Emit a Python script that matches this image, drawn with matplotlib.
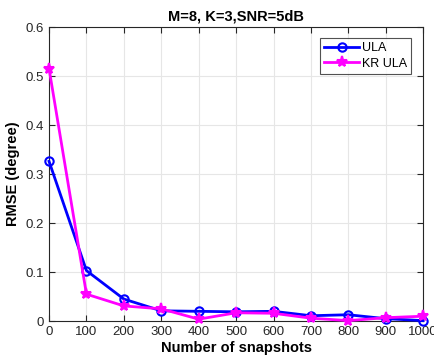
import matplotlib
matplotlib.use("Agg")
import matplotlib.pyplot as plt

snapshots = [0, 100, 200, 300, 400, 500, 600, 700, 800, 900, 1000]
ula = [0.326, 0.103, 0.045, 0.021, 0.020, 0.019, 0.020, 0.011, 0.013, 0.005, 0.001]
kr_ula = [0.515, 0.055, 0.031, 0.025, 0.004, 0.017, 0.016, 0.006, 0.001, 0.007, 0.010]
xticks = [0, 100, 200, 300, 400, 500, 600, 700, 800, 900, 1000]
yticks = [0, 0.1, 0.2, 0.3, 0.4, 0.5, 0.6]

plt.rcParams['font.family'] = ['Liberation Sans', 'DejaVu Sans']
fig = plt.figure(figsize=(4.34, 3.6), dpi=100)
ax = fig.add_axes([0.113, 0.108, 0.862, 0.817])

ax.plot(snapshots, ula, color='#0000ff', lw=2, marker='o', ms=6, mfc='none', mew=1.5, label='ULA', clip_on=False, zorder=3)
ax.plot(snapshots, kr_ula, color='#ff00ff', lw=2, marker='*', ms=8, mew=1.5, label='KR ULA', clip_on=False, zorder=3)

ax.set_xlim(0, 1000)
ax.set_ylim(0, 0.6)
ax.set_xticks(xticks)
ax.set_yticks(yticks)
ax.set_yticklabels(['0', '0.1', '0.2', '0.3', '0.4', '0.5', '0.6'])
ax.tick_params(direction='in', labelsize=9.5, colors='#262626', length=4, top=True, right=True, labeltop=False, labelright=False)
ax.grid(True, color='#e6e6e6', lw=0.8)
ax.set_axisbelow(True)
for s in ax.spines.values():
    s.set_color('#262626')
    s.set_linewidth(0.8)

ax.set_title('M=8, K=3,SNR=5dB', fontsize=10.5, fontweight='bold', pad=5)
ax.set_xlabel('Number of snapshots', fontsize=10.5, fontweight='bold', labelpad=2)
ax.set_ylabel('RMSE (degree)', fontsize=10.5, fontweight='bold', labelpad=4)

leg = ax.legend(loc='upper right', bbox_to_anchor=(0.985, 0.985), fontsize=9, frameon=True, fancybox=False,
                edgecolor='#262626', handlelength=2.8, handletextpad=0.2, borderpad=0.35, labelspacing=0.3)
leg.get_frame().set_linewidth(0.8)

fig.savefig('out.png', dpi=100)
